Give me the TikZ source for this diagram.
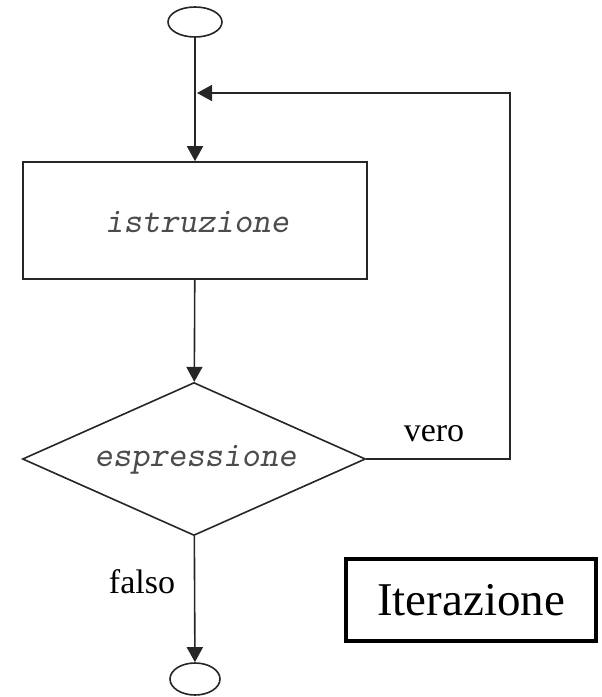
\documentclass[tikz,border=0pt]{standalone}
\usepackage{fontspec}
\setmainfont{Liberation Serif}
\usetikzlibrary{shapes.geometric,arrows.meta}
\tikzset{
  ln/.style={line width=1.6pt, black!85},
  arr/.style={ln, -{Triangle[length=15pt,width=16pt]}},
  term/.style={ellipse, draw, ln, inner sep=0pt, minimum width=#1},
  stepbox/.style={rectangle, draw, ln, inner sep=0pt, minimum width=344pt, minimum height=117pt},
  decide/.style={diamond, draw, ln, inner sep=0pt, minimum width=343pt, minimum height=153pt},
  code/.style={font=\fontsize{35}{35}\selectfont\ttfamily\slshape, text=black!70},
  lab/.style={font=\fontsize{34}{34}\selectfont, inner sep=0pt},
}
\begin{document}
\begin{tikzpicture}[x=1pt,y=-1pt]
\useasboundingbox (0,0) rectangle (602,697);
\node[term=54pt, minimum height=30pt] (start) at (195,22) {};
\node[stepbox] (istr) at (195,220.5) {};
\node[code] (istrtxt) at (197,222) {istruzione};
\node[decide] (espr) at (194,459) {};
\node[code] (esprtxt) at (195.5,460) {espressione};
\node[term=50pt, minimum height=32pt] (stop) at (195,679) {};
\coordinate (loopin) at (197,93);
\coordinate (cornerA) at (510,459);
\coordinate (cornerB) at (510,93);
\draw[arr] (start) -- (istr);
\draw[arr] (istr) -- (espr);
\draw[arr] (espr) -- (stop);
\draw[arr] (espr.east) -- (cornerA) -- (cornerB) -- (loopin);
\node[lab] (vero) at (434,434) {vero};
\node[lab] (falso) at (142,582) {falso};
\node[draw, line width=4.5pt, minimum width=250pt, minimum height=82pt, inner sep=0pt,
      font=\fontsize{47}{47}\selectfont] (title) at (471,600) {Iterazione};
\end{tikzpicture}
\end{document}
